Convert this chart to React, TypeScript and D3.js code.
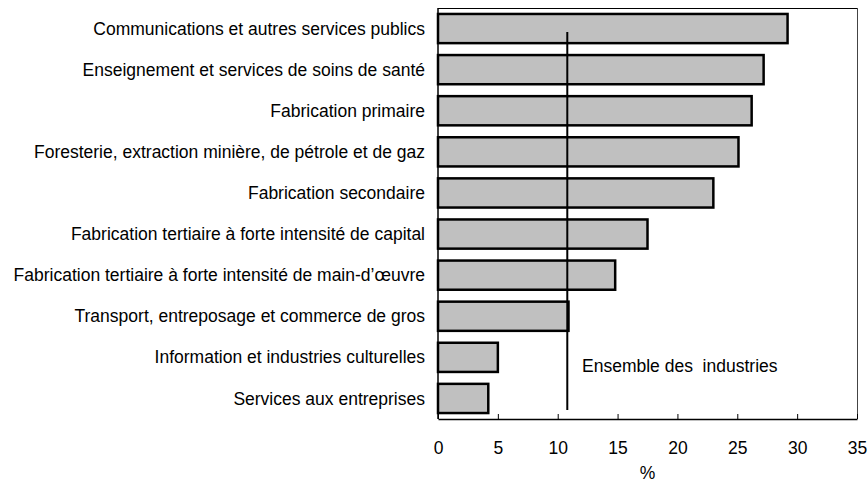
import React, { useRef, useEffect } from "react";
import * as d3 from "d3";

const categories = [
  "Communications et autres services publics",
  "Enseignement et services de soins de santé",
  "Fabrication primaire",
  "Foresterie, extraction minière, de pétrole et de gaz",
  "Fabrication secondaire",
  "Fabrication tertiaire à forte intensité de capital",
  "Fabrication tertiaire à forte intensité de main-d’œuvre",
  "Transport, entreposage et commerce de gros",
  "Information et industries culturelles",
  "Services aux entreprises",
];
const values = [29.2, 27.2, 26.2, 25.1, 23.0, 17.5, 14.8, 10.9, 5.0, 4.2];
const allIndustries = 10.8;
const xTicks = [0, 5, 10, 15, 20, 25, 30, 35];

export default function App() {
  const svgRef = useRef<SVGSVGElement>(null);
  const width = 868;
  const height = 485;
  const marginLeft = 438;
  const marginRight = 11;
  const marginTop = 8;
  const marginBottom = 66;
  const font = "'Liberation Sans', Arial, sans-serif";
  const fontSize = 17.5;

  useEffect(() => {
    const svg = d3.select(svgRef.current);
    svg.selectAll("*").remove();

    const x = d3.scaleLinear().domain([0, 35]).range([marginLeft, width - marginRight]);
    const y = d3.scaleBand<string>()
      .domain(categories)
      .range([marginTop, height - marginBottom])
      .paddingInner(0.29)
      .paddingOuter(0.145);

    // plot frame
    svg.append("line")
      .attr("x1", marginLeft).attr("x2", width - marginRight)
      .attr("y1", marginTop + 0.5).attr("y2", marginTop + 0.5)
      .attr("stroke", "#000");
    svg.append("line")
      .attr("x1", width - marginRight + 0.5).attr("x2", width - marginRight + 0.5)
      .attr("y1", marginTop).attr("y2", height - marginBottom)
      .attr("stroke", "#444");

    // bars
    svg.append("g")
      .selectAll("rect")
      .data(categories)
      .join("rect")
      .attr("x", x(0))
      .attr("y", (d) => y(d)!)
      .attr("width", (d, i) => x(values[i]) - x(0))
      .attr("height", y.bandwidth())
      .attr("fill", "#c0c0c0")
      .attr("stroke", "#000")
      .attr("stroke-width", 2.5);

    // category labels
    svg.append("g")
      .selectAll("text")
      .data(categories)
      .join("text")
      .attr("x", 425)
      .attr("y", (d) => y(d)! + y.bandwidth() / 2)
      .attr("dy", "0.35em")
      .attr("text-anchor", "end")
      .attr("font-family", font)
      .attr("font-size", fontSize)
      .attr("fill", "#000")
      .text((d) => d);

    // reference line
    svg.append("line")
      .attr("x1", x(allIndustries)).attr("x2", x(allIndustries))
      .attr("y1", 32).attr("y2", 410)
      .attr("stroke", "#000")
      .attr("stroke-width", 2);
    svg.append("text")
      .attr("x", 582)
      .attr("y", 366)
      .attr("dy", "0.35em")
      .attr("font-family", font)
      .attr("font-size", fontSize)
      .style("white-space", "pre")
      .text("Ensemble des  industries");

    // x axis
    svg.append("g")
      .attr("transform", `translate(0,${height - marginBottom})`)
      .call(d3.axisBottom(x).tickValues(xTicks).tickSize(-5).tickSizeOuter(0).tickPadding(23))
      .call((g) => g.select(".domain").attr("stroke-width", 1.5))
      .call((g) => g.selectAll(".tick text")
        .attr("font-family", font)
        .attr("font-size", fontSize)
        .attr("fill", "#000"));

    // y axis line
    svg.append("line")
      .attr("x1", marginLeft).attr("x2", marginLeft)
      .attr("y1", marginTop).attr("y2", height - marginBottom)
      .attr("stroke", "#000")
      .attr("stroke-width", 1.5);

    svg.append("text")
      .attr("x", (x(0) + x(35)) / 2)
      .attr("y", 473)
      .attr("dy", "0.35em")
      .attr("text-anchor", "middle")
      .attr("font-family", font)
      .attr("font-size", fontSize)
      .text("%");
  }, []);

  return (
    <div style={{ position: "absolute", left: 0, top: 0 }}>
      <svg ref={svgRef} width={width} height={height} style={{ display: "block", background: "#fff" }}></svg>
    </div>
  );
}
